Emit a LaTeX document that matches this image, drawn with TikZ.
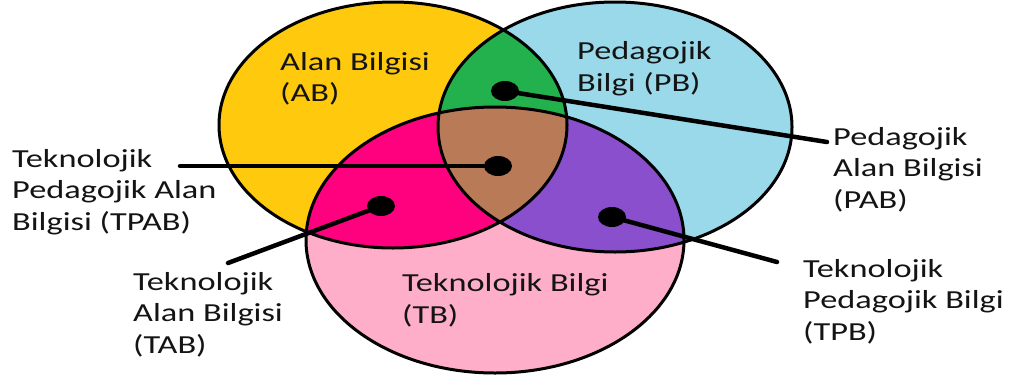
\documentclass[tikz,border=0pt]{standalone}
\usepackage{fontspec}
\setmainfont{Carlito}
\newfontfamily\lblfont[FakeStretch=1.32]{Carlito}
\usetikzlibrary{shapes.geometric}
\definecolor{cYel}{HTML}{FFC90E}
\definecolor{cBlu}{HTML}{99D9EA}
\definecolor{cPnk}{HTML}{FFAEC9}
\definecolor{cGrn}{HTML}{22B14C}
\definecolor{cMag}{HTML}{FF007F}
\definecolor{cPur}{HTML}{8A4FCC}
\definecolor{cBrn}{HTML}{B97A57}
\begin{document}
\begin{tikzpicture}[x=1pt,y=-1pt,
  lbl/.style={anchor=base west, align=left, inner sep=0pt, font=\lblfont\fontsize{26}{31.5}\selectfont, text=black!92},
  ring/.style={draw=black, line width=3pt},
  conn/.style={draw=black, line width=4.5pt, line cap=round},
  dotn/.style={ellipse, fill=black, inner sep=0pt, minimum width=28pt, minimum height=20pt}
]
\def\ellA{(393,125) ellipse [x radius=174pt, y radius=123pt]}
\def\ellB{(615,127) ellipse [x radius=177pt, y radius=125pt]}
\def\ellC{(495,240) ellipse [x radius=189pt, y radius=133pt]}
\fill[white] (0,0) rectangle (1009,378);
\useasboundingbox (0,0) rectangle (1009,378);
% base fills
\fill[cYel] \ellA;
\fill[cBlu] \ellB;
\begin{scope}\clip \ellA; \fill[cGrn] \ellB; \end{scope}
\fill[cPnk] \ellC;
\begin{scope}\clip \ellC; \fill[cMag] \ellA; \end{scope}
\begin{scope}\clip \ellC; \fill[cPur] \ellB; \end{scope}
\begin{scope}\clip \ellC; \clip \ellA; \fill[cBrn] \ellB; \end{scope}
% outlines
\draw[ring] \ellA;
\draw[ring] \ellB;
\draw[ring] \ellC;
% labels (anchored at the baseline of the last line)
\node[lbl] (AB) at (280,101.5) {Alan Bilgisi\\(AB)};
\node[lbl] (PB) at (577,91) {Pedagojik\\Bilgi (PB)};
\node[lbl] (TB) at (402,323) {Teknolojik Bilgi\\(TB)};
\node[lbl] (TPAB) at (12,230) {Teknolojik\\Pedagojik Alan\\Bilgisi (TPAB)};
\node[lbl] (TAB) at (133,353) {Teknolojik\\Alan Bilgisi\\(TAB)};
\node[lbl] (PAB) at (833,208) {Pedagojik\\Alan Bilgisi\\(PAB)};
\node[lbl] (TPB) at (803,340) {Teknolojik\\Pedagojik Bilgi\\(TPB)};
% dots
\node[dotn] (dPAB) at (505,91) {};
\node[dotn] (dTPAB) at (498,166) {};
\node[dotn] (dTAB) at (381,206) {};
\node[dotn] (dTPB) at (612,217) {};
% connector ends
\coordinate (ePAB) at (827,142);
\coordinate (eTPAB) at (180,166);
\coordinate (eTAB) at (228,263);
\coordinate (eTPB) at (777,262);
\draw[conn] (dPAB.center) -- (ePAB);
\draw[conn] (dTPAB.center) -- (eTPAB);
\draw[conn] (dTAB.center) -- (eTAB);
\draw[conn] (dTPB.center) -- (eTPB);
\end{tikzpicture}
\end{document}
